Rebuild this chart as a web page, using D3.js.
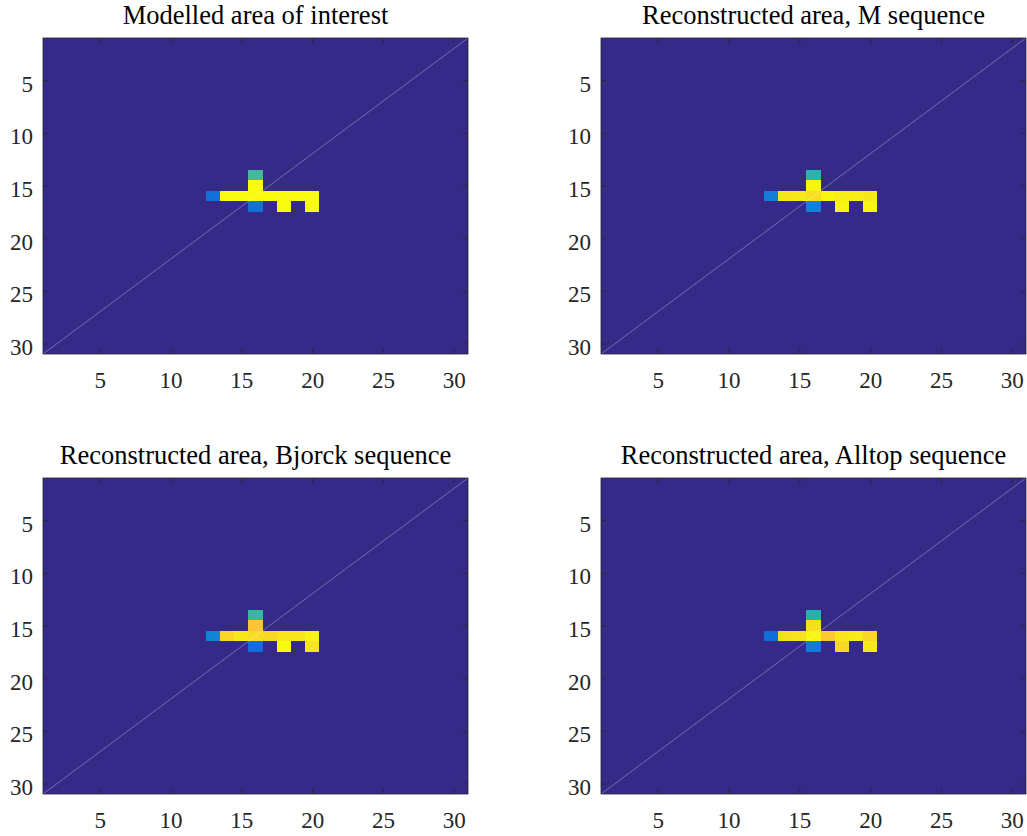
<!DOCTYPE html>
<html><head><meta charset="utf-8">
<script src="https://cdn.jsdelivr.net/npm/d3@7"></script>
<style>body{margin:0;background:#fff}svg{display:block}</style>
</head><body>
<svg id="c" width="1027" height="836"></svg>
<script>
// ---- data ----
const titles = [
  "Modelled area of interest",
  "Reconstructed area, M sequence",
  "Reconstructed area, Bjorck sequence",
  "Reconstructed area, Alltop sequence"
];
const gridSize = 31;
const xTicks = [5, 10, 15, 20, 25, 30];
const yTicks = [5, 10, 15, 20, 25, 30];
// non-zero cells (row, column) shared by all four maps
const cellRows = [14, 15, 16, 16, 16, 16, 16, 16, 16, 16, 17, 17, 17];
const cellCols = [16, 16, 13, 14, 15, 16, 17, 18, 19, 20, 16, 18, 20];
const modelledValues  = [0.52, 1.00, 0.18, 1.00, 1.00, 1.00, 1.00, 1.00, 1.00, 1.00, 0.18, 1.00, 1.00];
const mSequenceValues = [0.47, 0.99, 0.22, 0.95, 0.96, 0.94, 0.99, 0.97, 0.97, 0.96, 0.23, 0.99, 0.99];
const bjorckValues    = [0.50, 0.86, 0.25, 0.91, 0.96, 0.93, 0.92, 0.955, 0.955, 0.985, 0.17, 1.00, 0.955];
const alltopValues    = [0.46, 0.94, 0.17, 0.94, 0.945, 0.99, 0.88, 0.955, 0.965, 0.91, 0.21, 0.92, 0.96];
const panelValues = [modelledValues, mSequenceValues, bjorckValues, alltopValues];

// parula colormap anchors
const parulaPos = [0, 7/63, 15/63, 23/63, 31/63, 39/63, 47/63, 51/63, 55/63, 59/63, 1];
const parulaCol = ["#352a87", "#0f5cdd", "#1481d6", "#06a4ca", "#2eb7a4", "#87bf77",
                   "#d1bb59", "#f1b94a", "#fec832", "#f5de21", "#f9fb0e"];
const color = d3.scaleLinear().domain(parulaPos).range(parulaCol).interpolate(d3.interpolateRgb).clamp(true);

// ---- layout ----
const svg = d3.select("#c");
const panelLeft = [43, 601];
const panelTop = [38, 478];
const W = 425, H = 316;
const fontFam = "'Liberation Serif', 'Times New Roman', serif";
const axisCol = "#262626";

panelValues.forEach((vals, i) => {
  const x0 = panelLeft[i % 2], y0 = panelTop[Math.floor(i / 2)];
  const x = d3.scaleLinear().domain([1, gridSize]).range([x0, x0 + W]);
  const y = d3.scaleLinear().domain([1, gridSize]).range([y0, y0 + H]);

  const grid = [];
  for (let r = 1; r <= gridSize; r++) for (let c = 1; c <= gridSize; c++) grid.push({r, c, v: 0});
  cellRows.forEach((r, k) => { grid[(r - 1) * gridSize + (cellCols[k] - 1)].v = vals[k]; });

  const clipId = "clip" + i;
  svg.append("clipPath").attr("id", clipId).append("rect")
    .attr("x", x0).attr("y", y0).attr("width", W).attr("height", H);

  const g = svg.append("g");
  const img = g.append("g").attr("clip-path", `url(#${clipId})`);
  img.selectAll("rect").data(grid).join("rect")
    .attr("x", d => x(d.c - 0.5)).attr("y", d => y(d.r - 0.5))
    .attr("width", d => x(d.c + 0.5) - x(d.c - 0.5))
    .attr("height", d => y(d.r + 0.5) - y(d.r - 0.5))
    .attr("fill", d => color(d.v))
    .attr("shape-rendering", "crispEdges");

  // diagonal reference line
  img.append("line")
    .attr("x1", x(1)).attr("y1", y(gridSize)).attr("x2", x(gridSize)).attr("y2", y(1))
    .attr("stroke", "#ffffff").attr("stroke-opacity", 0.4).attr("stroke-width", 0.8);

  // axes (ticks inside, mirrored)
  const tl = 5;
  const axB = d3.axisBottom(x).tickValues(xTicks).tickSizeInner(-tl).tickSizeOuter(0).tickPadding(10);
  const axT = d3.axisTop(x).tickValues(xTicks).tickSizeInner(-tl).tickSizeOuter(0).tickFormat("");
  const axL = d3.axisLeft(y).tickValues(yTicks).tickSizeInner(-tl).tickSizeOuter(0).tickPadding(10);
  const axR = d3.axisRight(y).tickValues(yTicks).tickSizeInner(-tl).tickSizeOuter(0).tickFormat("");

  const gb = g.append("g").attr("transform", `translate(0,${y0 + H})`).call(axB);
  const gt = g.append("g").attr("transform", `translate(0,${y0})`).call(axT);
  const gl = g.append("g").attr("transform", `translate(${x0},0)`).call(axL);
  const gr = g.append("g").attr("transform", `translate(${x0 + W},0)`).call(axR);
  [gb, gt, gl, gr].forEach(a => {
    a.select(".domain").remove();
    a.selectAll(".tick line").attr("stroke", axisCol).attr("stroke-width", 0.8);
    a.selectAll(".tick text").attr("fill", axisCol)
      .style("font-family", fontFam).style("font-size", "23px");
  });
  gb.selectAll(".tick text").attr("dy", null).attr("y", 34);
  gl.selectAll(".tick text").attr("dy", null).attr("y", 11);

  g.append("rect").attr("x", x0).attr("y", y0).attr("width", W).attr("height", H)
    .attr("fill", "none").attr("stroke", axisCol).attr("stroke-width", 0.8);

  g.append("text").attr("x", x0 + W / 2).attr("y", y0 - 14)
    .attr("text-anchor", "middle").attr("fill", "#000")
    .style("font-family", fontFam).style("font-size", "26.5px")
    .text(titles[i]);
});
</script>
</body></html>
